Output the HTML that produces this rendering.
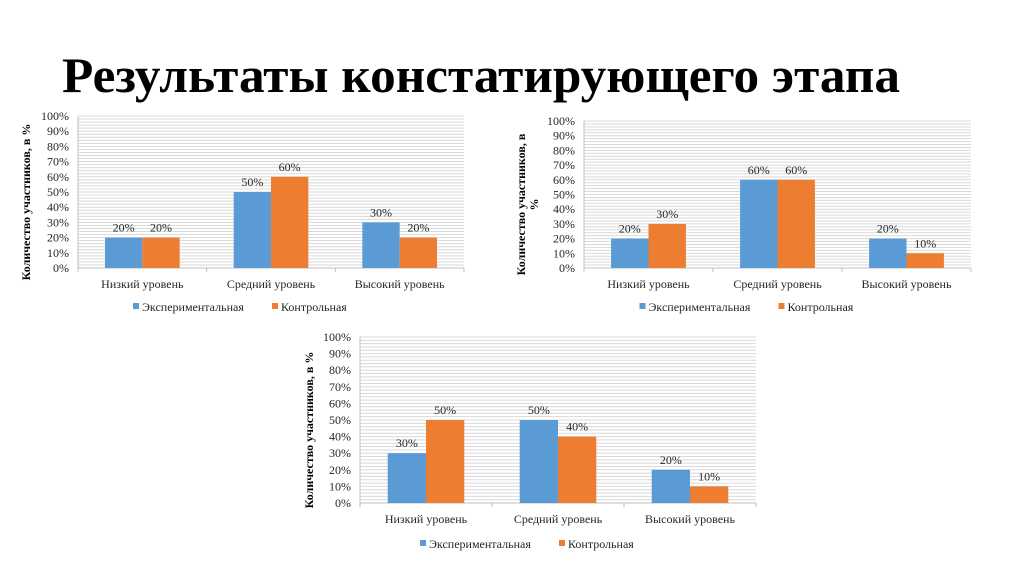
<!DOCTYPE html>
<html><head><meta charset="utf-8"><style>
body{margin:0;background:#fff;width:1024px;height:574px;overflow:hidden}
svg{display:block;font-family:"Liberation Serif",serif}
</style></head><body>
<svg id="s" width="1024" height="574" viewBox="0 0 1024 574">
<text x="62" y="92" font-size="50" font-weight="bold" textLength="838" lengthAdjust="spacingAndGlyphs">Результаты констатирующего этапа</text>
</svg>
<script>
const categories=["Низкий уровень","Средний уровень","Высокий уровень"];
const seriesNames=["Экспериментальная","Контрольная"];
const chart1Exp=[20,50,30];
const chart1Ctl=[20,60,20];
const chart2Exp=[20,60,20];
const chart2Ctl=[30,60,10];
const chart3Exp=[30,50,20];
const chart3Ctl=[50,40,10];
const tickLabels=["0%","10%","20%","30%","40%","50%","60%","70%","80%","90%","100%"];
const colors=["#5b9bd5","#ed7d31"];
const NS="http://www.w3.org/2000/svg";
const svg=document.getElementById('s');
function mk(tag,attrs,parent,txt){const e=document.createElementNS(NS,tag);for(const k in attrs)e.setAttribute(k,attrs[k]);if(txt!=null)e.textContent=txt;parent.appendChild(e);return e;}
function chart(id,x0,x1,yTop,y0,catY,legY,data,titleLines,titleX){
  const g=mk('g',{},svg);
  
  
  const ys=v=>y0-(y0-yTop)*v/100;
  const cw=(x1-x0)/categories.length;
  for(let v=2;v<=100;v+=2){const l=mk('line',{x1:x0,x2:x1,y1:ys(v),y2:ys(v),stroke:'#d9d9d9','stroke-width':1},g);
    
    }
  const ax=mk('line',{x1:x0,x2:x1,y1:y0,y2:y0,stroke:'#bfbfbf'},g);
  
  
  const ay=mk('line',{x1:x0,x2:x0,y1:yTop,y2:y0,stroke:'#bfbfbf'},g);
  
  
  for(let i=0;i<=categories.length;i++){mk('line',{x1:x0+cw*i,x2:x0+cw*i,y1:y0,y2:y0+4,stroke:'#bfbfbf'},g);}
  tickLabels.forEach((t,i)=>{const e=mk('text',{x:x0-9,y:ys(i*10)+4,'font-size':12,'text-anchor':'end',fill:'#262626'},g,t);
    
    });
  const bw=cw*0.29;
  categories.forEach((c,i)=>{
    const cx=x0+cw*(i+0.5);
    data.forEach((ser,s)=>{
      const bx=cx-bw+s*bw, v=ser[i];
      const r=mk('rect',{x:bx,y:ys(v),width:bw,height:y0-ys(v),fill:colors[s]},g);
      
      
      const t=mk('text',{x:bx+bw/2,y:ys(v)-6,'font-size':12,'text-anchor':'middle',fill:'#262626'},g,v+'%');
      
      
    });
    const cl=mk('text',{x:cx,y:catY,'font-size':12,'text-anchor':'middle',fill:'#262626'},g,c);
    
    
  });
  const mid=(x0+x1)/2;
  const lx=[mid-138,mid+1];
  seriesNames.forEach((n,s)=>{
    const sx=lx[s];
    const st=mk('rect',{x:sx,y:legY-8,width:6,height:6,fill:colors[s]},g);
    
    
    const lt=mk('text',{x:sx+9,y:legY,'font-size':12,fill:'#262626'},g,n);
    
    
  });
  const tcy=(yTop+y0)/2+10;
  const tt=mk('text',{transform:`translate(${titleX},${tcy}) rotate(-90)`,'font-size':12,'font-weight':'bold','text-anchor':'middle'},g);
  
  
  titleLines.forEach((l,i)=>{mk('tspan',{x:0,dy:i===0?0:13},tt,l);});
}
chart('chart-1',78,464,116,268,288,311,[chart1Exp,chart1Ctl],["Количество участников, в %"],30);
chart('chart-2',584,971,121,268,288,311,[chart2Exp,chart2Ctl],["Количество участников, в","%"],525);
chart('chart-3',360,756,337,503,523,548,[chart3Exp,chart3Ctl],["Количество участников, в %"],313);
</script>
</body></html>
